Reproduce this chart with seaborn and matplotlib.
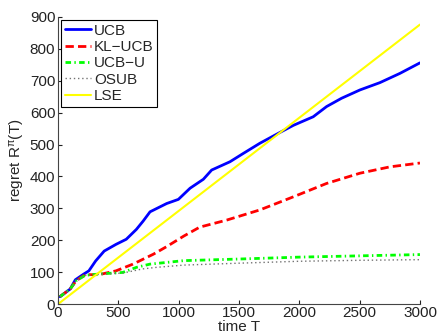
import pandas as pd
import matplotlib
matplotlib.use('Agg')
import matplotlib.pyplot as plt
import seaborn as sns

# data
ucb_t = [15, 100, 143, 213, 255, 311, 382, 480, 565, 649, 705, 762, 900, 997, 1094, 1204, 1273,
         1425, 1535, 1673, 1825, 1950, 2115, 2226, 2350, 2502, 2668, 2834, 3000]
ucb_r = [23, 47, 76, 94, 104, 135, 166, 187, 203, 234, 260, 289, 315, 328, 363, 391, 420,
         446, 472, 504, 535, 560, 587, 619, 645, 671, 694, 723, 756]

klucb_t = [15, 100, 150, 225, 339, 480, 620, 789, 900, 1042, 1174, 1397, 1673, 1950, 2226, 2502, 2751, 3000]
klucb_r = [23, 47, 73, 92, 92, 104, 125, 156, 180, 213, 241, 263, 295, 336, 378, 410, 430, 442]

ucbu_t = [15, 100, 150, 225, 339, 536, 650, 761, 1042, 1500, 2000, 2500, 3000]
ucbu_r = [23, 47, 73, 90, 94, 99, 115, 125, 136, 141, 147, 151, 155]

osub_t = [15, 100, 150, 225, 339, 536, 700, 817, 1042, 1500, 2000, 2500, 3000]
osub_r = [23, 47, 73, 90, 93, 97, 110, 115, 122, 128, 134, 137, 139]

lse_t = [0, 500, 1000, 1500, 2000, 2500, 3000]
lse_r = [0, 146, 292, 438, 584, 730, 876]

sns.set_style('ticks')
plt.rcParams['font.family'] = ['Liberation Sans', 'DejaVu Sans']
plt.rcParams['mathtext.fontset'] = 'custom'
plt.rcParams['mathtext.rm'] = 'Liberation Sans'
plt.rcParams['mathtext.it'] = 'Liberation Sans'

fig = plt.figure(figsize=(4.37, 3.35), dpi=100)
ax = fig.add_axes([0.133, 0.0925, 0.828, 0.857])

series = [
    ('UCB', ucb_t, ucb_r, dict(color='#0000ff', lw=2.0)),
    ('KL\u2212UCB', klucb_t, klucb_r, dict(color='#ff0000', lw=2.0, dashes=(3, 1.5))),
    ('UCB\u2212U', ucbu_t, ucbu_r, dict(color='#00ff00', lw=2.0, dashes=(2, 1.2, 0.5, 1.2))),
    ('OSUB', osub_t, osub_r, dict(color='0.45', lw=1.0, dashes=(1, 2))),
    ('LSE', lse_t, lse_r, dict(color='#ffff00', lw=1.5)),
]
for name, t, r, st in series:
    df = pd.DataFrame({'t': t, 'r': r})
    dashes = st.pop('dashes', None)
    sns.lineplot(data=df, x='t', y='r', ax=ax, label=name, estimator=None, sort=False, **st)
    if dashes is not None:
        ax.lines[-1].set_dashes(dashes)

ax.set_xlim(0, 3000)
ax.set_ylim(0, 900)
ax.set_xticks(range(0, 3001, 500))
ax.set_yticks(range(0, 901, 100))
ax.tick_params(direction='in', length=3, labelsize=11, colors='#222222', pad=2)
ax.tick_params(axis='x', pad=1.5)
for s in ['left', 'bottom']:
    ax.spines[s].set_color('#444444')
sns.despine(ax=ax)
ax.set_xlabel('time T', fontsize=11, labelpad=0)
ax.set_ylabel('regret R$^{\\pi}$(T)', fontsize=11, labelpad=2)

leg = ax.legend(loc='upper left', fontsize=11, handlelength=1.7, handletextpad=0.2,
                labelspacing=0.15, borderpad=0.25, borderaxespad=0.2, fancybox=False,
                frameon=True, framealpha=1)
leg.get_frame().set_edgecolor('black')
leg.get_frame().set_linewidth(0.8)

plt.savefig('out.png', dpi=100)
